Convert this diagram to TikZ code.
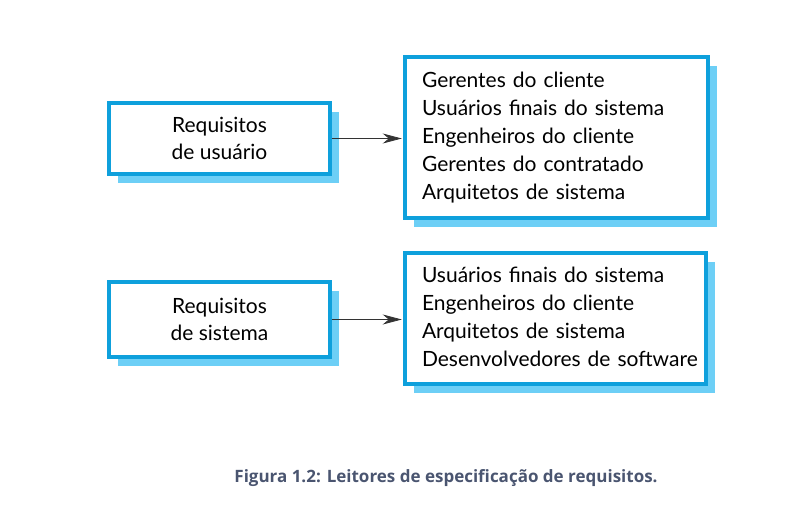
\documentclass[tikz,border=0pt]{standalone}
\usepackage{fontspec}
\setmainfont{Lato}
\newfontfamily\capfont{Open Sans}
\usetikzlibrary{shadows,arrows.meta}
\definecolor{boxblue}{HTML}{0EA0DC}
\definecolor{shadowblue}{HTML}{6DCFF6}
\definecolor{captiongray}{HTML}{4A5570}
\newcommand{\listlines}[2]{\raisebox{#1}{\begin{tabular}{@{}l@{}}#2\end{tabular}}}
\tikzset{
  reqbox/.style={draw=boxblue, line width=3.5pt, fill=white, inner sep=0pt,
    general shadow={fill=shadowblue, shadow xshift=9pt, shadow yshift=-9pt},
    font=\fontsize{21}{27}\selectfont, align=center},
  listbox/.style={reqbox, align=left, font=\fontsize{21}{28}\selectfont},
  conn/.style={-{Stealth[length=19pt,width=10pt,inset=6pt]}, line width=0.8pt, black!80, shorten >=1.5pt}
}
\begin{document}
\begin{tikzpicture}[x=1pt,y=-1pt]
\useasboundingbox (0,0) rectangle (797,532);
\node[reqbox, minimum width=221pt, minimum height=71pt] (ru) at (219.5,138.5) {Requisitos\\de usuário};
\node[listbox, minimum width=303pt, minimum height=161pt, text width=269pt] (lu) at (556.5,137.5)
  {\listlines{4pt}{Gerentes do cliente\\Usuários finais do sistema\\Engenheiros do cliente\\Gerentes do contratado\\Arquitetos de sistema}};
\node[reqbox, minimum width=221pt, minimum height=75pt] (rs) at (219.5,319.5) {Requisitos\\de sistema};
\node[listbox, minimum width=301pt, minimum height=131pt, text width=267pt] (ls) at (555.5,318.5)
  {\listlines{1.5pt}{Usuários finais do sistema\\Engenheiros do cliente\\Arquitetos de sistema\\Desenvolvedores de software}};
\draw[conn] (ru.east) -- (lu.west |- ru.east);
\draw[conn] (rs.east) -- (ls.west |- rs.east);
\node[font=\capfont\bfseries\fontsize{17}{20}\selectfont, text=captiongray, anchor=base] (cap) at (446,482) {Figura 1.2: Leitores de especificação de requisitos.};
\end{tikzpicture}
\end{document}
